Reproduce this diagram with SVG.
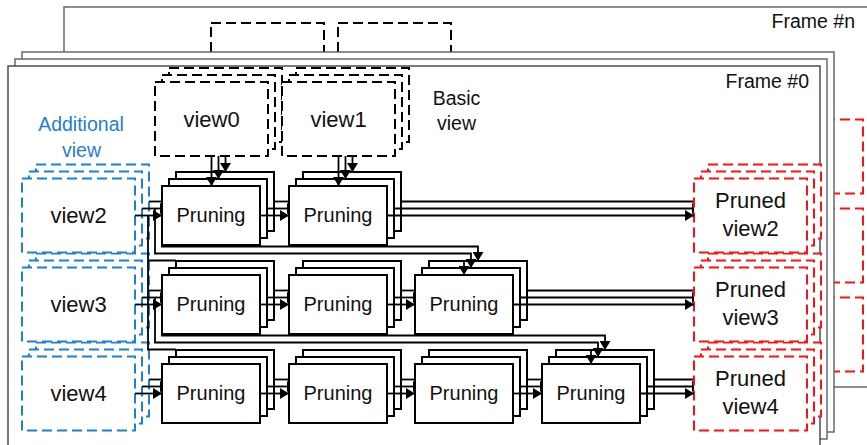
<svg xmlns="http://www.w3.org/2000/svg" xmlns:xlink="http://www.w3.org/1999/xlink" width="867" height="445" viewBox="0 0 867 445">
  <style>
    text { font-family: "Liberation Sans", Arial, sans-serif; fill: #111; }
    .frame { fill: #fff; stroke: #5e5e5e; stroke-width: 1.4; }
    .frame0 { fill: #fff; stroke: #333; stroke-width: 1.3; }
    .vb { fill: #fff; stroke: #000; stroke-width: 2; stroke-dasharray: 10 5; }
    .vblue { fill: #fff; stroke: #1f7fd0; stroke-width: 2; stroke-dasharray: 10 5; }
    .vred { fill: #fff; stroke: #ff1010; stroke-width: 2; stroke-dasharray: 10 5; }
    .pr { fill: #fff; stroke: #000; stroke-width: 2; }
    .cn { fill: none; stroke: #000; stroke-width: 1.8; }
    .arr { marker-end: url(#ah); }
    .lbl22 { font-size: 22px; text-anchor: middle; }
    .lbl20 { font-size: 20px; text-anchor: middle; }
    .note { font-size: 19.5px; text-anchor: middle; }
    .ftitle { font-size: 19.5px; text-anchor: end; }
  </style>
  <defs>
    <marker id="ah" viewBox="0 0 9 11" refX="9" refY="5.5" markerWidth="9" markerHeight="11" markerUnits="userSpaceOnUse" orient="auto">
      <path d="M0,0 L9,5.5 L0,11 z" fill="#000"/>
    </marker>
    <!-- one stacked copy of the pipeline: boxes without labels plus full connector routes -->
    <g id="stackCopy">
      <rect class="vb" x="155" y="82" width="113" height="74"/>
      <rect class="vb" x="282" y="82" width="113" height="74"/>
      <rect class="vblue" x="22" y="178.5" width="113" height="74"/>
      <rect class="vblue" x="22" y="267.5" width="113" height="74"/>
      <rect class="vblue" x="22" y="356.5" width="113" height="74"/>
      <rect class="pr" x="162" y="186" width="98" height="59"/>
      <rect class="pr" x="289" y="186" width="98" height="59"/>
      <rect class="pr" x="162" y="275" width="98" height="59"/>
      <rect class="pr" x="289" y="275" width="98" height="59"/>
      <rect class="pr" x="415" y="275" width="98" height="59"/>
      <rect class="pr" x="162" y="364" width="98" height="59"/>
      <rect class="pr" x="289" y="364" width="98" height="59"/>
      <rect class="pr" x="415" y="364" width="98" height="59"/>
      <rect class="pr" x="542" y="364" width="98" height="59"/>
      <rect class="vred" x="694" y="178.5" width="113" height="74"/>
      <rect class="vred" x="694" y="267.5" width="113" height="74"/>
      <rect class="vred" x="694" y="356.5" width="113" height="74"/>
      <g class="cn">
        <path class="arr" d="M211.5,156 V186"/>
        <path class="arr" d="M338.5,156 V186"/>
        <path class="arr" d="M135,215.5 H162"/>
        <path class="arr" d="M260,215.5 H289"/>
        <path class="arr" d="M387,215.5 H694"/>
        <path class="arr" d="M135,304.5 H162"/>
        <path class="arr" d="M260,304.5 H289"/>
        <path class="arr" d="M387,304.5 H415"/>
        <path class="arr" d="M513,304.5 H694"/>
        <path class="arr" d="M135,393.5 H162"/>
        <path class="arr" d="M260,393.5 H289"/>
        <path class="arr" d="M387,393.5 H415"/>
        <path class="arr" d="M513,393.5 H542"/>
        <path class="arr" d="M640,393.5 H694"/>
        <path class="arr" d="M148,215.5 V260.5 H464 V275"/>
        <path class="arr" d="M148,304.5 V349.5 H591 V364"/>
      </g>
    </g>
  </defs>

  <rect x="0" y="0" width="867" height="445" fill="#fff"/>

  <!-- last frame, mostly hidden behind the earlier frames -->
  <g id="frame-n">
    <rect class="frame" x="64" y="7" width="812" height="380"/>
    <rect class="vb" x="211" y="23" width="113" height="74"/>
    <rect class="vb" x="338" y="23" width="113" height="74"/>
    <rect class="vred" x="750" y="119.5" width="113" height="74"/>
    <rect class="vred" x="750" y="208.5" width="113" height="74"/>
    <rect class="vred" x="750" y="297.5" width="113" height="74"/>
    <text class="ftitle" x="855" y="28">Frame #n</text>
  </g>
  <g id="frame-2">
    <rect class="frame" x="22" y="52" width="812" height="380"/>
  </g>
  <g id="frame-1">
    <rect class="frame" x="15" y="59" width="812" height="380"/>
  </g>
  <g id="frame-0">
    <rect class="frame0" x="8" y="66" width="812" height="380"/>
    <text class="ftitle" x="809" y="88">Frame #0</text>
  </g>

  <!-- stacked copies behind the front pipeline -->
  <use xlink:href="#stackCopy" href="#stackCopy" transform="translate(14,-14)"/>
  <use xlink:href="#stackCopy" href="#stackCopy" transform="translate(7,-7)"/>

  <!-- front pipeline -->
  <g id="view0"><rect class="vb" x="155" y="82" width="113" height="74"/><text class="lbl22" x="211.5" y="126.5">view0</text></g>
  <g id="view1"><rect class="vb" x="282" y="82" width="113" height="74"/><text class="lbl22" x="338.5" y="126.5">view1</text></g>
  <g id="basic-label"><text class="note" x="456.5" y="105">Basic</text><text class="note" x="456.5" y="130">view</text></g>
  <g id="additional-label"><text class="note" x="81" y="131" style="fill:#1f7fd0">Additional</text><text class="note" x="81.5" y="156.5" style="fill:#1f7fd0">view</text></g>

  <g id="view2"><rect class="vblue" x="22" y="178.5" width="113" height="74"/><text class="lbl22" x="78.5" y="223">view2</text></g>
  <g id="view3"><rect class="vblue" x="22" y="267.5" width="113" height="74"/><text class="lbl22" x="78.5" y="312">view3</text></g>
  <g id="view4"><rect class="vblue" x="22" y="356.5" width="113" height="74"/><text class="lbl22" x="78.5" y="401">view4</text></g>

  <g id="pruning-1-1"><rect class="pr" x="162" y="186" width="98" height="59"/><text class="lbl20" x="211" y="222">Pruning</text></g>
  <g id="pruning-1-2"><rect class="pr" x="289" y="186" width="98" height="59"/><text class="lbl20" x="338" y="222">Pruning</text></g>
  <g id="pruning-2-1"><rect class="pr" x="162" y="275" width="98" height="59"/><text class="lbl20" x="211" y="311">Pruning</text></g>
  <g id="pruning-2-2"><rect class="pr" x="289" y="275" width="98" height="59"/><text class="lbl20" x="338" y="311">Pruning</text></g>
  <g id="pruning-2-3"><rect class="pr" x="415" y="275" width="98" height="59"/><text class="lbl20" x="464" y="311">Pruning</text></g>
  <g id="pruning-3-1"><rect class="pr" x="162" y="364" width="98" height="59"/><text class="lbl20" x="211" y="400">Pruning</text></g>
  <g id="pruning-3-2"><rect class="pr" x="289" y="364" width="98" height="59"/><text class="lbl20" x="338" y="400">Pruning</text></g>
  <g id="pruning-3-3"><rect class="pr" x="415" y="364" width="98" height="59"/><text class="lbl20" x="464" y="400">Pruning</text></g>
  <g id="pruning-3-4"><rect class="pr" x="542" y="364" width="98" height="59"/><text class="lbl20" x="591" y="400">Pruning</text></g>

  <g id="pruned-view2"><rect class="vred" x="694" y="178.5" width="113" height="74"/><text class="lbl22" x="750.5" y="208">Pruned</text><text class="lbl22" x="750.5" y="236">view2</text></g>
  <g id="pruned-view3"><rect class="vred" x="694" y="267.5" width="113" height="74"/><text class="lbl22" x="750.5" y="297">Pruned</text><text class="lbl22" x="750.5" y="325">view3</text></g>
  <g id="pruned-view4"><rect class="vred" x="694" y="356.5" width="113" height="74"/><text class="lbl22" x="750.5" y="386">Pruned</text><text class="lbl22" x="750.5" y="414">view4</text></g>

  <g id="connectors" class="cn">
    <path class="arr" d="M211.5,156 V186"/>
    <path class="arr" d="M338.5,156 V186"/>
    <path class="arr" d="M135,215.5 H162"/>
    <path class="arr" d="M260,215.5 H289"/>
    <path class="arr" d="M387,215.5 H694"/>
    <path class="arr" d="M135,304.5 H162"/>
    <path class="arr" d="M260,304.5 H289"/>
    <path class="arr" d="M387,304.5 H415"/>
    <path class="arr" d="M513,304.5 H694"/>
    <path class="arr" d="M135,393.5 H162"/>
    <path class="arr" d="M260,393.5 H289"/>
    <path class="arr" d="M387,393.5 H415"/>
    <path class="arr" d="M513,393.5 H542"/>
    <path class="arr" d="M640,393.5 H694"/>
    <path d="M148,215.5 V349.5 H176 M148,260.5 H176"/>
    <path class="arr" d="M464,261 V275"/>
    <path class="arr" d="M591,350 V364"/>
  </g>
</svg>
